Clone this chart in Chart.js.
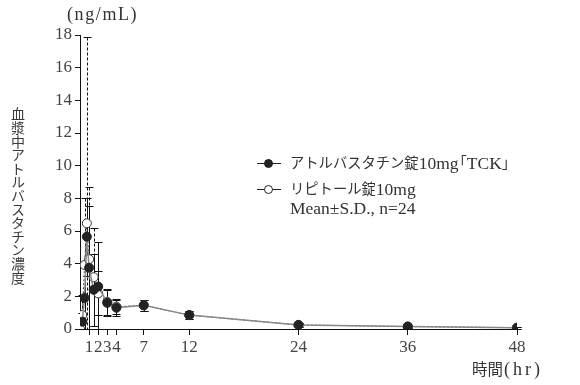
<!DOCTYPE html>
<html>
<head>
<meta charset="utf-8">
<script src="https://cdn.jsdelivr.net/npm/chart.js@4"></script>
<style>
  html, body { margin: 0; padding: 0; background: #fff; }
  #wrap { position: relative; width: 580px; height: 385px; font-family: "Liberation Serif", "Noto Sans CJK JP", serif; color: #333; }
  #chart { position: absolute; left: 0; top: 0; }
  .lbl { position: absolute; white-space: nowrap; }
  .la { font-size: 17.5px; }
  .bl { margin-left: -6px; }
  .br { margin-right: -6px; }
  #unit { left: 67px; top: 4px; font-size: 18px; letter-spacing: 1.6px; }
  #xtitle { left: 472px; top: 357px; font-size: 15.5px; }
  #xtitle .la { font-size: 18px; letter-spacing: 3px; margin-left: 1px; }
  #ytitle { left: 9px; top: 107px; font-size: 14px; writing-mode: vertical-rl; letter-spacing: -0.4px; line-height: 1; color: #3a3a3a; }
  #legend { left: 257px; top: 152px; font-size: 14.3px; line-height: 20px; }
  .row { display: flex; align-items: center; height: 22px; }
  .mk { position: relative; width: 24px; height: 10px; margin-right: 9px; }
  .mk .ln { position: absolute; left: 0; right: 0; top: 5px; height: 1px; background: #222; }
  .mk .dot { position: absolute; left: 7px; top: 1px; width: 7px; height: 7px; border-radius: 50%; border: 1px solid #222; }
</style>
</head>
<body>
<div id="wrap">
  <canvas id="chart" width="580" height="385"></canvas>
  <div class="lbl" id="unit">(ng/mL)</div>
  <div class="lbl" id="xtitle">時間<span class="la">(hr)</span></div>
  <div class="lbl" id="ytitle">血漿中アトルバスタチン濃度</div>
  <div class="lbl" id="legend">
    <div class="row"><div class="mk"><div class="ln"></div><div class="dot" style="background:#222"></div></div>アトルバスタチン錠<span class="la">10mg</span><span class="bl">「</span><span class="la">TCK</span><span class="br">」</span></div>
    <div class="row" style="margin-top:4px"><div class="mk"><div class="ln"></div><div class="dot" style="background:#fff"></div></div>リピトール錠<span class="la">10mg</span></div>
    <div class="row la" style="padding-left:33px; margin-top:-3px">Mean±S.D., n=24</div>
  </div>
</div>
<script>
// sampling times (hr)
const times = [0, 0.25, 0.5, 0.75, 1, 1.5, 2, 3, 4, 7, 12, 24, 36, 48];

// アトルバスタチン錠10mg「TCK」 (t=0 point sits under the open circle)
const tckMean = [null, 0.45, 1.9, 5.65, 3.75, 2.4, 2.6, 1.6, 1.3, 1.45, 0.85, 0.25, 0.15, 0.08];
const tckSD   = [0, 0.5, 1.9, 2.4, 3.8, 2.2, 2.7, 0.8, 0.5, 0.35, 0.25, 0.12, 0.1, 0.06];

// リピトール錠10mg
const refMean = [0, 0.86, 3.92, 6.47, 4.27, 3.17, 2.18, 1.65, 1.37, 1.45, 0.85, 0.25, 0.15, 0.08];
const refSD   = [0, 1.2, 4.1, 11.4, 4.4, 3.0, 1.35, 0.8, 0.45, 0.35, 0.25, 0.12, 0.1, 0.06];

const xTicks = [1, 2, 3, 4, 7, 12, 24, 36, 48];
const yMax = 18;

const pts = (m) => times.map((t, i) => ({ x: t, y: m[i] }));

// error bars, drawn under the points
const errorBars = {
    id: 'errorBars',
    beforeDatasetsDraw(chart) {
        const ctx = chart.ctx;
        const xs = chart.scales.x, ys = chart.scales.y;
        const sets = [
            { m: tckMean, sd: tckSD, dash: [] },
            { m: refMean, sd: refSD, dash: [3, 2] }
        ];
        ctx.save();
        ctx.strokeStyle = '#111';
        ctx.lineWidth = 1;
        sets.forEach(s => {
            times.forEach((t, i) => {
                if (s.m[i] == null || !s.sd[i]) return;
                const x = Math.round(xs.getPixelForValue(t)) + 0.5;
                const hi = s.m[i] + s.sd[i];
                const lo = s.m[i] - s.sd[i];
                const yHi = Math.round(ys.getPixelForValue(hi)) + 0.5;
                const yLo = Math.round(ys.getPixelForValue(Math.max(lo, 0))) + 0.5;
                ctx.setLineDash(s.dash);
                ctx.beginPath();
                ctx.moveTo(x, yHi);
                ctx.lineTo(x, yLo);
                ctx.stroke();
                ctx.setLineDash([]);
                ctx.beginPath();
                ctx.moveTo(x - 4, yHi); ctx.lineTo(x + 4, yHi);
                if (lo > 0) { ctx.moveTo(x - 4, yLo); ctx.lineTo(x + 4, yLo); }
                ctx.stroke();
            });
        });
        ctx.restore();
    }
};

new Chart(document.getElementById('chart'), {
    type: 'line',
    data: {
        datasets: [
            {
                label: 'アトルバスタチン錠10mg「TCK」',
                data: pts(tckMean),
                borderColor: '#888',
                borderWidth: 1.5,
                pointRadius: 4.5,
                pointBackgroundColor: '#222',
                pointBorderColor: '#222',
                pointBorderWidth: 1,
                tension: 0,
                order: 1
            },
            {
                label: 'リピトール錠10mg',
                data: pts(refMean),
                borderColor: '#444',
                borderWidth: 1,
                borderDash: [2, 2],
                pointRadius: 4.5,
                pointBackgroundColor: '#fff',
                pointBorderColor: '#333',
                pointBorderWidth: 1,
                tension: 0,
                order: 2
            }
        ]
    },
    options: {
        responsive: false,
        animation: false,
        layout: { padding: { left: 0, right: 63, top: 35, bottom: 0 } },
        plugins: { legend: { display: false }, tooltip: { enabled: false } },
        scales: {
            x: {
                type: 'linear',
                min: 0,
                max: 48,
                afterBuildTicks: (s) => { s.ticks = xTicks.map(v => ({ value: v })); },
                afterFit: (s) => { s.height = 56; },
                grid: { drawOnChartArea: false, drawTicks: true, tickLength: 6, color: '#111' },
                border: { display: true, color: '#111', width: 1 },
                ticks: {
                    autoSkip: false,
                    maxRotation: 0,
                    padding: 2,
                    color: '#444',
                    font: { family: 'Liberation Serif', size: 17 }
                }
            },
            y: {
                min: 0,
                max: yMax,
                afterFit: (s) => { s.width = 80; },
                grid: { drawOnChartArea: false, drawTicks: true, tickLength: 5, color: '#111' },
                border: { display: true, color: '#111', width: 1 },
                ticks: {
                    stepSize: 2,
                    padding: 3,
                    color: '#444',
                    font: { family: 'Liberation Serif', size: 17 }
                }
            }
        }
    },
    plugins: [errorBars]
});
</script>
</body>
</html>
